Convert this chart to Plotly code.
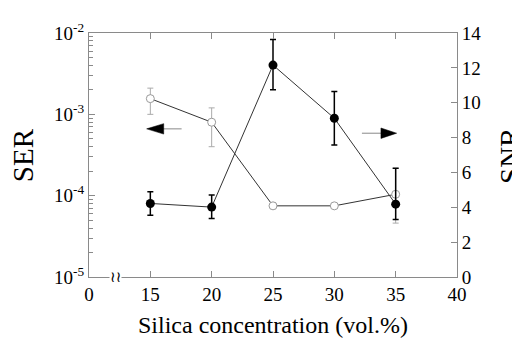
import plotly.graph_objects as go

# Data
x_vals = [15, 20, 25, 30, 35]
ser = [1.56e-3, 8.0e-4, 7.5e-5, 7.5e-5, 1.04e-4]
ser_hi = [2.1e-3, 1.2e-3, 7.5e-5, 7.5e-5, 2.17e-4]
ser_lo = [1.0e-3, 4.0e-4, 7.5e-5, 7.5e-5, 4.6e-5]
snr = [4.22, 4.01, 12.16, 9.11, 4.18]
snr_hi = [4.89, 4.70, 13.62, 10.64, 6.24]
snr_lo = [3.54, 3.36, 10.75, 7.57, 3.30]
x_tick_vals = [10, 15, 20, 25, 30, 35, 40]
x_tick_text = ["0", "15", "20", "25", "30", "35", "40"]
ser_tick_vals = [1e-5, 1e-4, 1e-3, 1e-2]
ser_tick_text = ["10<sup>-5</sup>", "10<sup>-4</sup>", "10<sup>-3</sup>", "10<sup>-2</sup>"]

FONT = "Liberation Serif"
AX = "#8a8a8a"

fig = go.Figure()
fig.add_trace(go.Scatter(
    x=x_vals, y=ser, mode="lines+markers", yaxis="y",
    line=dict(color="#333", width=1),
    marker=dict(symbol="circle", size=8, color="white", line=dict(color="#999", width=1)),
    error_y=dict(type="data", symmetric=False,
                 array=[h - v for h, v in zip(ser_hi, ser)],
                 arrayminus=[v - l for v, l in zip(ser, ser_lo)],
                 color="#aaa", thickness=1, width=3),
    showlegend=False))
fig.add_trace(go.Scatter(
    x=x_vals, y=snr, mode="lines+markers", yaxis="y2",
    line=dict(color="#333", width=1),
    marker=dict(symbol="circle", size=9, color="black"),
    error_y=dict(type="data", symmetric=False,
                 array=[h - v for h, v in zip(snr_hi, snr)],
                 arrayminus=[v - l for v, l in zip(snr, snr_lo)],
                 color="black", thickness=1.5, width=3),
    showlegend=False))

fig.update_layout(
    width=520, height=340,
    margin=dict(l=81, r=71, t=20, b=71),
    paper_bgcolor="white", plot_bgcolor="white",
    font=dict(family=FONT, size=19, color="black"),
    xaxis=dict(range=[10, 40], tickvals=x_tick_vals, ticktext=x_tick_text,
               ticks="inside", ticklen=6, tickcolor=AX, showline=True, linecolor=AX,
               linewidth=1, mirror="ticks", showgrid=False, zeroline=False),
    yaxis=dict(type="log", range=[-5, -2], tickvals=ser_tick_vals, ticktext=ser_tick_text,
               ticks="inside", ticklen=6, tickcolor=AX, showline=True, linecolor=AX,
               linewidth=1, showgrid=False, zeroline=False,
               minor=dict(ticks="inside", ticklen=4, tickcolor=AX, dtick="D1", showgrid=False)),
    yaxis2=dict(range=[0, 14], dtick=2, overlaying="y", side="right",
                ticks="inside", ticklen=6, tickcolor=AX, showline=True, linecolor=AX,
                linewidth=1, showgrid=False, zeroline=False),
)

# axis titles
fig.add_annotation(text="SER", xref="paper", yref="paper", x=-0.179, y=0.5,
                   textangle=-90, showarrow=False, font=dict(size=29, family=FONT),
                   xanchor="center", yanchor="middle")
fig.add_annotation(text="SNR", xref="paper", yref="paper", x=1.144, y=0.5,
                   textangle=-90, showarrow=False, font=dict(size=29, family=FONT),
                   xanchor="center", yanchor="middle")
fig.add_annotation(text="Silica concentration (vol.%)", xref="paper", yref="paper",
                   x=0.5, y=-0.197, showarrow=False, font=dict(size=24, family=FONT),
                   xanchor="center", yanchor="middle")

# direction arrows (gray shaft + black head)
fig.add_shape(type="line", xref="x", yref="y2", x0=17.55, x1=16.0, y0=8.5, y1=8.5,
              line=dict(color="#888", width=1))
fig.add_shape(type="path", xref="x", yref="y2",
              path="M 14.7 8.5 L 16.09 8.8 L 16.09 8.2 Z",
              fillcolor="black", line=dict(color="black", width=0.5))
fig.add_shape(type="line", xref="x", yref="y2", x0=32.25, x1=33.9, y0=8.25, y1=8.25,
              line=dict(color="#888", width=1))
fig.add_shape(type="path", xref="x", yref="y2",
              path="M 35.08 8.25 L 33.8 8.55 L 33.8 7.95 Z",
              fillcolor="black", line=dict(color="black", width=0.5))

# axis break mark
fig.add_annotation(text="≀≀", x=12.2, y=0, xref="x", yref="paper", showarrow=False,
                   font=dict(size=15, family="DejaVu Sans", color="black"),
                   bgcolor="white", borderpad=0, xanchor="center", yanchor="middle")

fig.write_html("out.html")
